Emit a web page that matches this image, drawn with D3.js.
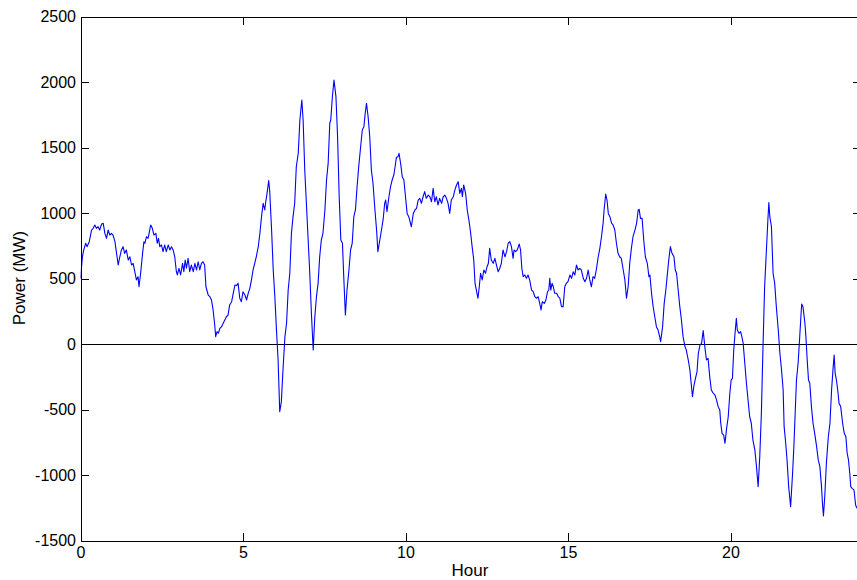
<!DOCTYPE html>
<html>
<head>
<meta charset="utf-8">
<script src="https://cdn.jsdelivr.net/npm/d3@7"></script>
<style>
  html, body { margin: 0; padding: 0; background: #fff; }
  svg { display: block; }
  text { font-family: "Liberation Sans", Arial, Helvetica, sans-serif; fill: #000; }
</style>
</head>
<body>
<svg id="chart" width="857" height="580"></svg>
<script>
// ---- data ----
const hours = [
  0.00,0.06,0.10,0.16,0.20,0.27,0.34,0.39,0.44,0.49,0.54,0.59,0.65,0.70,0.75,0.80,0.85,0.90,0.95,1.00,
  1.06,1.11,1.16,1.21,1.26,1.31,1.36,1.41,1.47,1.52,1.57,1.62,1.67,1.72,1.77,1.80,1.85,1.91,1.95,1.98,
  2.03,2.08,2.13,2.16,2.21,2.26,2.32,2.36,2.40,2.44,2.49,2.54,2.59,2.64,2.70,2.75,2.80,2.85,2.90,2.95,
  2.98,3.03,3.08,3.14,3.18,3.22,3.26,3.31,3.36,3.41,3.47,3.52,3.57,3.62,3.67,3.72,3.77,3.82,3.86,3.93,
  3.98,4.03,4.08,4.13,4.16,4.20,4.24,4.29,4.34,4.39,4.44,4.49,4.54,4.59,4.65,4.70,4.75,4.80,4.85,4.90,
  4.95,5.00,5.06,5.11,5.16,5.21,
  5.26,5.31,5.36,5.41,5.47,5.52,5.57,5.62,5.67,5.70,5.74,5.79,5.82,5.88,5.93,5.98,6.03,6.08,6.13,6.18,
  6.23,6.29,6.34,6.39,6.44,6.49,6.54,6.59,6.64,6.70,6.75,6.81,6.85,6.90,6.95,7.00,7.05,7.11,7.16,7.21,
  7.26,7.31,7.36,7.41,7.46,7.52,7.57,7.62,7.67,7.70,7.75,7.80,7.86,7.91,7.96,8.01,8.06,8.10,8.15,8.20,
  8.26,8.31,8.36,8.41,8.46,8.51,8.56,8.61,8.67,8.72,8.76,8.80,8.85,8.90,8.95,9.00,9.06,9.11,9.15,9.21,
  9.26,9.31,9.36,9.39,9.43,9.49,9.54,9.59,9.64,9.68,9.72,9.77,9.80,9.85,9.90,9.95,10.00,10.05,10.10,
  10.18,10.24,10.29,10.34,10.39,10.44,10.49,10.54,10.59,10.64,10.70,10.75,10.80,10.85,10.90,10.95,11.00,
  11.05,11.11,11.16,11.21,11.26,11.31,11.36,11.41,11.47,11.52,11.57,11.62,11.67,11.72,11.75,11.79,11.85,
  11.90,11.95,12.00,12.05,12.10,12.14,12.18,12.23,12.27,12.31,12.36,12.41,12.46,12.51,12.55,12.59,12.64,
  12.70,12.75,12.80,12.85,
  12.90,12.95,13.00,13.06,13.11,13.16,13.21,13.26,13.31,13.34,13.39,13.44,13.50,13.54,13.58,13.62,13.67,
  13.72,13.77,13.82,13.88,13.93,13.98,14.03,14.08,14.13,14.17,14.21,14.27,14.32,14.37,14.41,14.44,14.47,
  14.51,14.55,14.59,14.65,14.70,14.75,14.80,14.85,14.90,14.95,15.00,15.06,15.11,15.16,15.21,15.26,15.31,
  15.36,15.41,15.47,15.52,15.57,15.62,15.67,15.72,15.77,15.82,15.87,15.93,15.98,16.03,16.08,16.11,16.16,
  16.20,16.24,16.29,16.34,16.39,16.44,16.49,16.54,16.59,16.64,16.70,16.75,16.80,16.85,16.90,16.95,17.00,
  17.06,17.11,17.16,17.19,17.23,17.28,17.33,17.38,17.44,17.49,17.52,17.57,17.62,17.67,17.72,17.77,17.82,
  17.85,17.91,17.96,18.01,18.05,18.10,18.15,18.20,18.26,18.30,18.34,18.39,18.44,18.49,18.54,18.60,18.64,
  18.70,18.75,
  18.80,18.83,18.87,18.91,18.97,19.01,19.06,19.11,19.16,19.21,19.26,19.31,19.36,19.41,19.47,19.52,19.57,
  19.62,19.67,19.70,19.74,19.79,19.83,19.88,19.93,19.98,20.02,20.06,20.10,20.14,20.18,20.21,20.26,20.31,
  20.35,20.39,20.44,20.49,20.54,20.59,20.64,20.69,20.75,20.80,20.85,20.90,20.95,21.00,21.05,21.11,21.15,
  21.18,21.21,21.26,21.31,21.36,21.41,21.47,21.52,21.57,21.62,21.65,21.69,21.74,21.79,21.85,21.91,21.95,
  21.99,22.03,22.08,22.13,22.16,22.19,22.23,22.29,22.32,22.36,22.40,22.44,22.49,22.54,22.59,22.65,22.70,
  22.75,22.80,22.83,22.86,22.90,22.95,23.01,23.06,23.11,23.16,23.19,23.22,23.26,23.31,23.34,23.39,23.45,
  23.50,23.55,23.59,23.63,23.67,23.70,23.74,23.80,23.85,23.89
];
const power = [
  501,667,718,769,743,781,870,883,908,883,895,870,916,921,845,807,870,832,845,832,
  781,692,603,666,718,743,692,718,641,666,603,616,552,489,514,437,540,692,781,769,
  819,807,870,908,883,832,845,769,807,743,756,705,756,705,756,718,743,718,666,552,
  527,578,527,616,552,641,578,654,552,603,552,616,565,628,565,616,628,603,437,374,
  361,336,260,145,56,94,82,120,132,158,183,208,221,298,323,387,450,446,463,349,
  323,399,374,336,387,425,
  489,565,616,667,743,845,972,1074,1023,1086,1150,1247,1176,870,565,361,107,-122,-517,-440,
  -198,56,158,412,540,845,972,1074,1353,1455,1710,1863,1710,1328,1074,819,565,208,-46,208,
  361,463,667,794,845,1023,1252,1379,1685,1710,1888,2015,1888,1582,1124,794,769,514,221,412,
  565,718,769,972,1023,1201,1353,1481,1634,1659,1761,1837,1735,1582,1328,1227,1023,870,705,794,
  870,947,1074,1099,1010,1124,1201,1252,1290,1353,1425,1430,1455,1379,1277,1252,1124,997,972,
  895,997,1023,1036,1099,1112,1074,1124,1163,1112,1137,1124,1086,1188,1086,1124,1061,
  1112,1074,1124,1137,1112,1074,997,1099,1124,1176,1214,1239,1150,1188,1124,1214,1150,
  1023,947,857,743,641,463,412,349,437,540,489,565,540,590,616,730,641,
  616,654,603,552,
  578,616,718,666,705,769,781,743,654,718,705,718,763,718,578,514,527,
  501,527,489,412,399,361,349,361,310,260,323,310,336,399,412,501,412,
  463,437,387,387,361,349,285,285,437,463,476,527,501,552,527,603,565,
  578,565,501,476,501,565,489,437,514,501,565,666,730,819,921,1023,1145,
  1099,997,972,923,908,870,769,692,666,654,565,489,349,437,616,730,819,
  870,921,1023,1028,959,959,794,666,616,514,527,387,285,208,132,107,56,
  18,132,310,412,514,641,743,692,666,565,540,412,285,183,56,-20,-46,
  -122,-198,
  -326,-402,-326,-275,-211,-71,-8,5,102,-20,-122,-109,-249,-351,-376,-389,-427,
  -478,-504,-605,-682,-695,-758,-644,-555,-376,-275,-262,-46,82,196,107,82,95,
  56,5,-147,-300,-427,-555,-605,-733,-809,-936,-1089,-860,-529,-20,437,743,947,
  1079,972,895,540,463,285,107,-71,-198,-351,-631,-733,-885,-1089,-1242,-987,-784,
  -529,-275,-147,56,183,305,285,158,56,-122,-275,-300,-478,-605,-682,-784,-885,
  -936,-1089,-1216,-1313,-1166,-911,-708,-605,-351,-173,-84,-224,-275,-376,-453,-478,-605,
  -682,-708,-834,-885,-987,-1089,-1102,-1114,-1229,-1254
];
const xTicks = [0, 5, 10, 15, 20];
const yTicks = [-1500, -1000, -500, 0, 500, 1000, 1500, 2000, 2500];
const xLabel = "Hour";
const yLabel = "Power (MW)";

// ---- drawing ----
const svg = d3.select("#chart");
const pLeft = 80.5, pRight = 860.5, pTop = 16.5, pBottom = 540.5;

const x = d3.scaleLinear().domain([0, 24]).range([pLeft, pRight]);
const y = d3.scaleLinear().domain([-1500, 2500]).range([pBottom, pTop]);

const tickLen = 8;
const fontSize = 16;
const plain = d => String(d);   // hyphen-minus, as in the original

const xAxisB = d3.axisBottom(x).tickValues(xTicks).tickSizeInner(-tickLen).tickSizeOuter(0).tickPadding(6.5).tickFormat(plain);
const xAxisT = d3.axisTop(x).tickValues(xTicks).tickSizeInner(-tickLen).tickSizeOuter(0).tickFormat("");
const yAxisL = d3.axisLeft(y).tickValues(yTicks).tickSizeInner(-tickLen).tickSizeOuter(0).tickPadding(4.5).tickFormat(plain);
const yAxisR = d3.axisRight(y).tickValues(yTicks).tickSizeInner(-tickLen).tickSizeOuter(0).tickFormat("");

function style(g) {
  g.selectAll("path.domain").attr("stroke", "#000").attr("stroke-width", 1).attr("shape-rendering", "crispEdges");
  g.selectAll(".tick line").attr("stroke", "#000").attr("stroke-width", 1).attr("shape-rendering", "crispEdges");
  g.selectAll(".tick text").attr("font-size", fontSize).attr("font-family", '"Liberation Sans", Arial, sans-serif').attr("fill", "#000");
}

// zero line
svg.append("line")
  .attr("x1", pLeft).attr("x2", pRight)
  .attr("y1", Math.round(y(0)) + 0.5).attr("y2", Math.round(y(0)) + 0.5)
  .attr("stroke", "#000").attr("stroke-width", 1).attr("shape-rendering", "crispEdges");

// data line
const pts = hours.map((h, i) => [h, power[i]]);
svg.append("defs").append("clipPath").attr("id", "clip")
  .append("rect").attr("x", pLeft).attr("y", pTop).attr("width", pRight - pLeft).attr("height", pBottom - pTop);
svg.append("path")
  .datum(pts)
  .attr("clip-path", "url(#clip)")
  .attr("fill", "none")
  .attr("stroke", "#0000ff")
  .attr("stroke-width", 1.1)
  .attr("stroke-linejoin", "round")
  .attr("d", d3.line().x(d => x(d[0])).y(d => y(d[1])));

svg.append("g").attr("transform", `translate(0,${pBottom})`).call(xAxisB).call(style);
svg.append("g").attr("transform", `translate(0,${pTop})`).call(xAxisT).call(style);
svg.append("g").attr("transform", `translate(${pLeft},0)`).call(yAxisL).call(style);
svg.append("g").attr("transform", `translate(${pRight},0)`).call(yAxisR).call(style);

// axis labels
svg.append("text")
  .attr("x", 470).attr("y", 576)
  .attr("text-anchor", "middle").attr("font-size", 17)
  .text(xLabel);
svg.append("text")
  .attr("transform", `translate(25,278) rotate(-90)`)
  .attr("text-anchor", "middle").attr("font-size", 17)
  .text(yLabel);
</script>
</body>
</html>
